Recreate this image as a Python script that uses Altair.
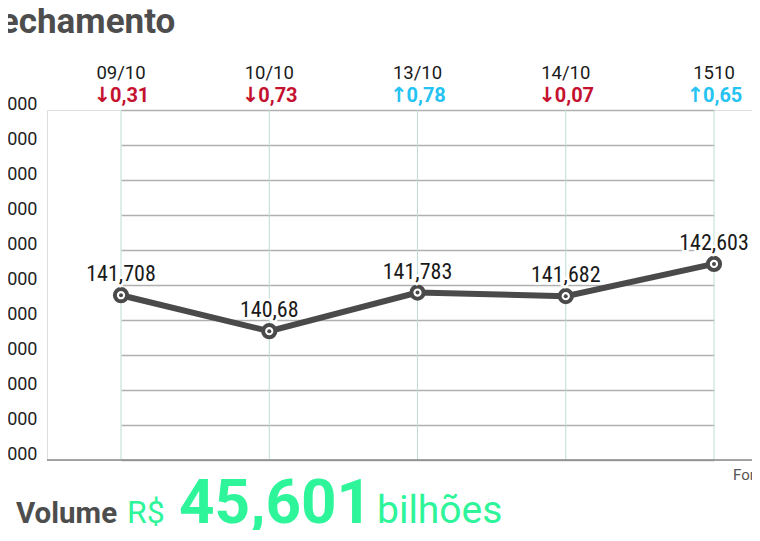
import altair as alt
import pandas as pd

# ---- data ----
dates = ["09/10", "10/10", "13/10", "14/10", "1510"]
values = [141.708, 140.68, 141.783, 141.682, 142.603]
value_labels = ["141,708", "140,68", "141,783", "141,682", "142,603"]
changes = ["0,31", "0,73", "0,78", "0,07", "0,65"]
directions = ["down", "down", "up", "down", "up"]
y_ticks = [137, 138, 139, 140, 141, 142, 143, 144, 145, 146, 147]

title_text = "Fechamento"
volume_label = "Volume"
volume_currency = "R$"
volume_value = "45,601"
volume_unit = "bilhões"
source_text = "Fonte: B3"

arrow = {"down": "\u2193", "up": "\u2191"}
df = pd.DataFrame({
    "date": dates,
    "value": values,
    "label": value_labels,
    "change": changes,
    "arrow": [arrow[d] for d in directions],
    "dir": directions,
})
tick_df = pd.DataFrame({"v": y_ticks})

DARK = "#4a4a4a"
GREEN = "#2ef59a"
NARROW = "Liberation Sans Narrow, Roboto Condensed, DejaVu Sans Condensed, Roboto"
W = 705
H = 350

xs = alt.Scale(type="point", domain=dates, range=[74, 667], padding=0)
ys = alt.Scale(domain=[137, 147], nice=False, zero=False)
yaxis = alt.Axis(
    values=y_ticks, labelExpr="datum.value + '.000'", grid=True,
    gridColor="#b0b0b0", gridWidth=1.3, domain=False, ticks=False,
    labelOverlap=False, labelPadding=10, labelFontSize=18,
    labelFont="Roboto", labelColor="#222222", labelBaseline="alphabetic",
    labelOffset=-1, title=None)
dir_color = alt.Color("dir:N", scale=alt.Scale(domain=["down", "up"],
                                               range=["#c41230", "#25c3f2"]),
                      legend=None)

X = alt.X("date:N", scale=xs, axis=None)
Y = alt.Y("value:Q", scale=ys, axis=yaxis)

base = alt.Chart(df)

vrules = base.mark_rule(color="#bcdcd5", strokeWidth=1).encode(
    x=X, y=alt.value(0), y2=alt.value(H),
)

bottom = alt.Chart(pd.DataFrame({"value": [y_ticks[0]]})).mark_rule(
    color="#8a8a8a", strokeWidth=1.5).encode(
    y=Y, x=alt.value(0), x2=alt.value(W))

line = base.mark_line(color=DARK, strokeWidth=6).encode(x=X, y=Y)

pts = base.mark_point(shape="circle", filled=True, fill="white", stroke=DARK,
                      strokeWidth=4, size=150, opacity=1).encode(x=X, y=Y)

dots = base.mark_circle(color=DARK, size=16, opacity=1).encode(x=X, y=Y)

halo = base.mark_text(font=NARROW, fontSize=22, dy=-14, baseline="alphabetic",
                      stroke="white", strokeWidth=5, fill="white").encode(
    x=X, y=Y, text="label:N")
labels = base.mark_text(font=NARROW, fontSize=22, dy=-14, baseline="alphabetic",
                        color="#1a1a1a").encode(x=X, y=Y, text="label:N")

hdr_dates = base.mark_text(font="Roboto", fontSize=18.5, baseline="middle",
                           color="#1a1a1a").encode(
    x=X, y=alt.value(-37), text="date:N")

hdr_changes = base.mark_text(font="Roboto", fontWeight="bold", fontSize=20,
                             baseline="middle", align="left", dx=-11).encode(
    x=X, y=alt.value(-14), text="change:N", color=dir_color)

hdr_arrows = base.mark_text(font="DejaVu Sans", fontWeight="bold", fontSize=21,
                            baseline="middle", align="right", dx=-10).encode(
    x=X, y=alt.value(-14), text="arrow:N", color=dir_color)


def txt(s, x, y, size, color, weight="normal", font="Roboto", align="left"):
    return alt.Chart(pd.DataFrame({"t": [s]})).mark_text(
        font=font, fontSize=size, fontWeight=weight, color=color,
        align=align, baseline="alphabetic").encode(
        text="t:N", x=alt.value(x), y=alt.value(y))


title = txt(title_text, -66, -77, 35, "#4d4d4d", "bold")
vol1 = txt(volume_label, -31, 413, 29.5, "#4d4d4d", "bold")
vol2 = txt(volume_currency, 80, 413, 32, GREEN)
vol3 = txt(volume_value, 132, 413, 62, GREEN, "bold")
vol4 = txt(volume_unit, 330, 413, 39, GREEN)
src = txt(source_text, 686, 370, 15, "#555555")

chart = alt.layer(
    vrules, bottom, line, pts, dots, halo, labels, hdr_dates,
    hdr_changes, hdr_arrows, title, vol1, vol2, vol3, vol4, src,
).properties(
    width=W, height=H,
    padding={"left": 39, "top": 102, "right": 0, "bottom": 70},
    autosize=alt.AutoSizeParams(type="none"),
).configure_view(stroke=None).configure(background="white")

chart.save("out.html", embed_options={"renderer": "svg", "actions": False})
